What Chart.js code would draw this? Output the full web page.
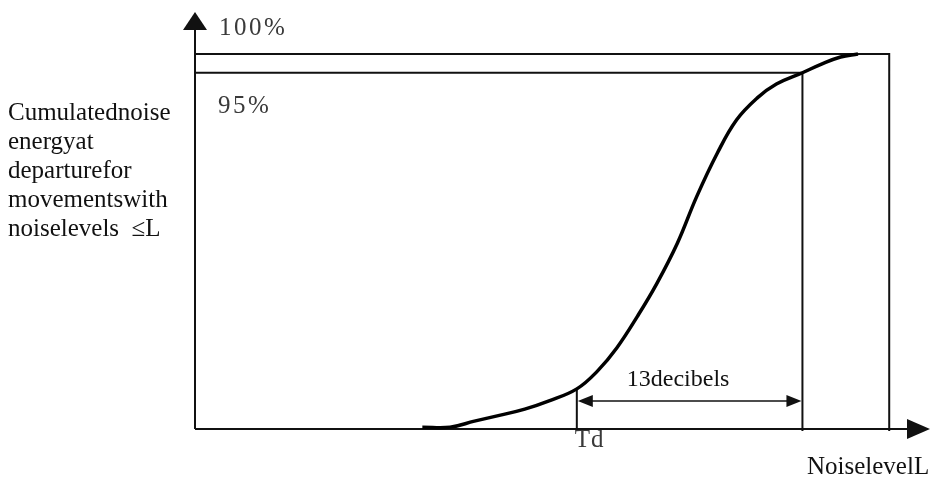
<!DOCTYPE html>
<html lang="en">
<head>
    <meta charset="UTF-8">
    <title>Cumulated noise energy</title>
    <style>
        body { margin: 0; background: #fff; }
        .wrap { width: 932px; height: 479px; }
    </style>
</head>
<body>
    <div class="wrap">
        <canvas id="myChart" width="932" height="479"></canvas>
    </div>

    <script src="https://cdn.jsdelivr.net/npm/chart.js"></script>

    <script>
    // curve: noise level (dB) vs cumulated energy (%)
    const noiseLevel = [13.1, 14.7, 16.1, 17.6, 19.0, 20.4, 22.0, 23.2, 24.3, 25.5, 26.6, 27.8, 28.9, 30.1, 31.2, 32.4, 33.5, 35.0, 36.1, 37.2, 38.2];
    const cumEnergy  = [0.5, 0.5, 2.1, 3.7, 5.3, 7.5, 10.7, 15.5, 21.6, 30.1, 38.7, 49.6, 61.9, 73.6, 82.4, 88.3, 92.0, 95.0, 97.3, 99.2, 100];

    // reference marks
    const pctLevels = [100, 95];
    const pctLabels = ['100%', '95%'];
    const tdLevel = 22;      // Td
    const l95Level = 35;     // level where 95% is reached (Td + 13 dB)
    const maxLevel = 40;     // right edge of the frame
    const spanLabel = '13decibels';
    const xTitle = 'NoiselevelL';
    const yTitle = ['Cumulatednoise', 'energyat', 'departurefor', 'movementswith', 'noiselevels  \u2264L'];

    const pts = noiseLevel.map((v, i) => ({ x: v, y: cumEnergy[i] }));

    function arrowHead(ctx, x, y, dir, len, half) {
        // dir: 'up', 'left', 'right'
        ctx.beginPath();
        if (dir === 'up') {
            ctx.moveTo(x, y); ctx.lineTo(x - half, y + len); ctx.lineTo(x + half, y + len);
        } else if (dir === 'right') {
            ctx.moveTo(x, y); ctx.lineTo(x - len, y - half); ctx.lineTo(x - len, y + half);
        } else {
            ctx.moveTo(x, y); ctx.lineTo(x + len, y - half); ctx.lineTo(x + len, y + half);
        }
        ctx.closePath();
        ctx.fill();
    }

    const sketch = {
        id: 'sketch',
        beforeDatasetsDraw(chart) {
            const ctx = chart.ctx;
            const sx = chart.scales.x, sy = chart.scales.y;
            const x0 = sx.getPixelForValue(0), y0 = sy.getPixelForValue(0);
            const xTd = sx.getPixelForValue(tdLevel);
            const x95 = sx.getPixelForValue(l95Level);
            const xMax = sx.getPixelForValue(maxLevel);
            const y100 = sy.getPixelForValue(pctLevels[0]);
            const y95 = sy.getPixelForValue(pctLevels[1]);
            const yTd = sy.getPixelForValue(cumEnergy[noiseLevel.indexOf(tdLevel)]);
            const right = chart.chartArea.right, top = chart.chartArea.top;

            ctx.save();
            ctx.strokeStyle = '#111';
            ctx.fillStyle = '#111';
            ctx.lineWidth = 2;

            // axes
            ctx.beginPath();
            ctx.moveTo(x0, y0); ctx.lineTo(x0, top + 14);
            ctx.moveTo(x0, y0); ctx.lineTo(right - 18, y0);
            ctx.stroke();
            arrowHead(ctx, x0, top, 'up', 18, 12);
            arrowHead(ctx, right, y0, 'right', 23, 10);

            // 100% / 95% lines and verticals
            ctx.beginPath();
            ctx.moveTo(x0, y100); ctx.lineTo(xMax, y100); ctx.lineTo(xMax, y0 + 2);
            ctx.moveTo(x0, y95); ctx.lineTo(x95, y95); ctx.lineTo(x95, y0 + 2);
            ctx.moveTo(xTd, yTd); ctx.lineTo(xTd, y0 + 2);
            ctx.stroke();

            // 13 dB dimension arrow
            const yDim = y0 - 28;
            ctx.lineWidth = 1.5;
            ctx.beginPath();
            ctx.moveTo(xTd + 10, yDim); ctx.lineTo(x95 - 10, yDim);
            ctx.stroke();
            arrowHead(ctx, xTd + 1, yDim, 'left', 15, 6);
            arrowHead(ctx, x95 - 1, yDim, 'right', 15, 6);

            // texts
            ctx.textBaseline = 'middle';
            ctx.textAlign = 'left';
            ctx.fillStyle = '#3a3a3a';
            ctx.font = '25px "Liberation Serif", serif';
            ctx.letterSpacing = '2.5px';
            ctx.fillText(pctLabels[0], x0 + 24, top + 16);
            ctx.fillText(pctLabels[1], x0 + 23, y95 + 34);
            ctx.letterSpacing = '1px';
            ctx.fillText('Td', xTd - 2, y0 + 11);
            ctx.letterSpacing = '0px';

            ctx.fillStyle = '#111';
            ctx.font = '24px "Liberation Serif", serif';
            ctx.fillText(spanLabel, xTd + 50, yDim - 21);
            ctx.font = '25px "Liberation Serif", serif';
            ctx.fillText(xTitle, 807, y0 + 38);
            yTitle.forEach((t, i) => ctx.fillText(t, 8, 113 + i * 29));
            ctx.restore();
        }
    };

    new Chart(document.getElementById('myChart'), {
        type: 'line',
        data: {
            datasets: [{
                data: pts,
                borderColor: '#000',
                borderWidth: 3.5,
                pointRadius: 0,
                fill: false,
                tension: 0.4,
                clip: false
            }]
        },
        options: {
            responsive: false,
            animation: false,
            layout: { padding: { left: 195, right: 2, top: 12, bottom: 50 } },
            plugins: { legend: { display: false }, tooltip: { enabled: false } },
            scales: {
                x: { type: 'linear', min: 0, max: 42.35, display: false },
                y: { type: 'linear', min: 0, max: 111.2, display: false }
            }
        },
        plugins: [sketch]
    });
    </script>
</body>
</html>
